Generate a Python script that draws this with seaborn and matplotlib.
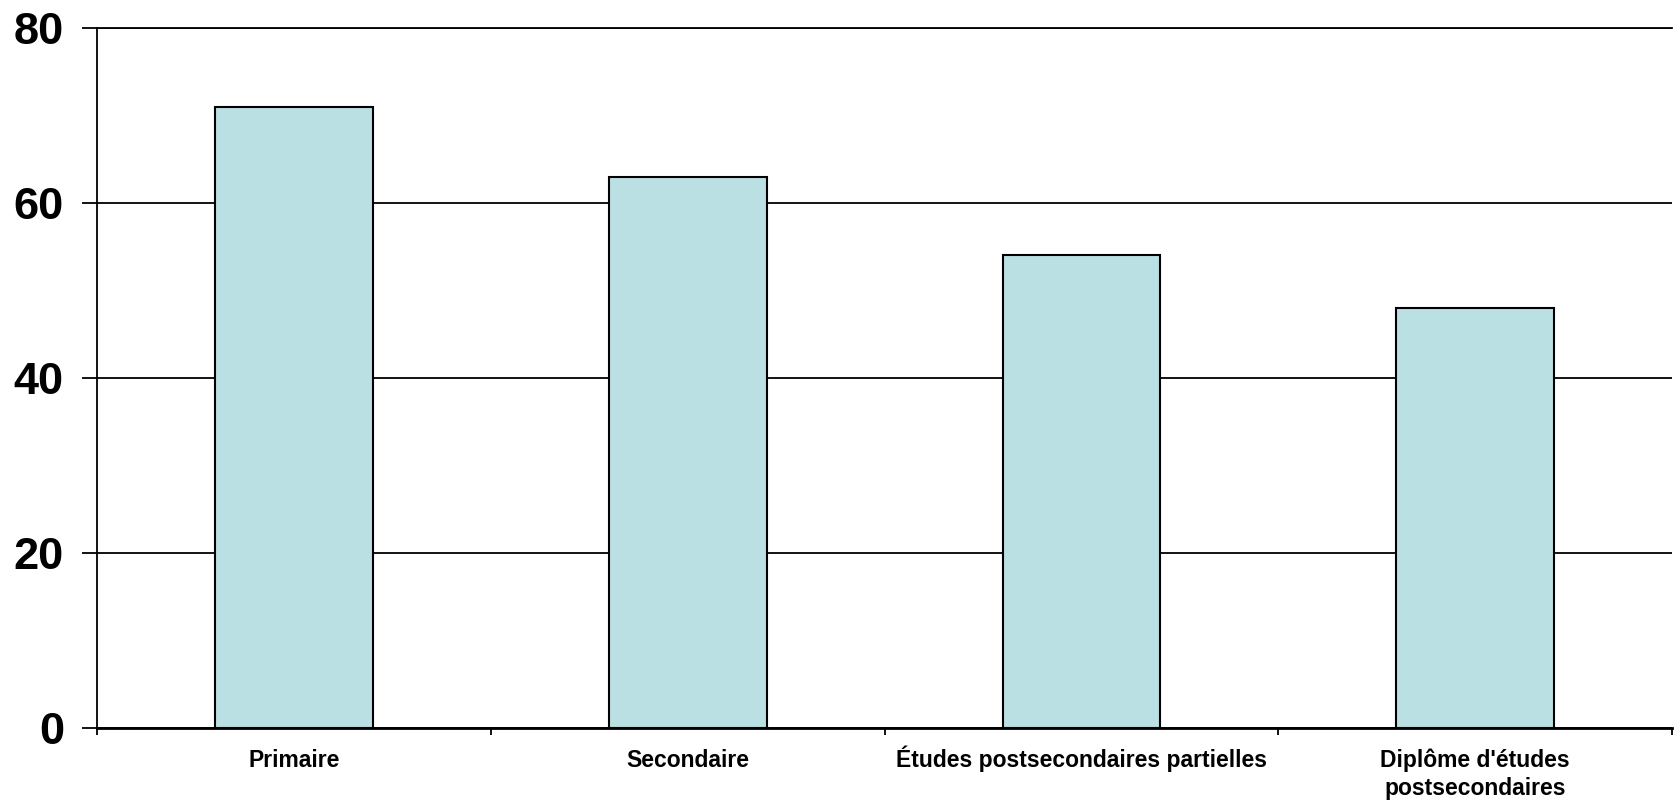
import matplotlib
matplotlib.use("Agg")
import matplotlib.pyplot as plt
import matplotlib.transforms as mtransforms
import seaborn as sns
import pandas as pd

categories = ["Primaire", "Secondaire", "Études postsecondaires partielles",
              "Diplôme d'études\npostsecondaires"]
values = [71, 63, 54, 48]
yticks = [0, 20, 40, 60, 80]

sns.set_theme(style="white")
plt.rcParams['font.family'] = ['Liberation Sans', 'DejaVu Sans']
plt.rcParams['text.color'] = 'black'
plt.rcParams['xtick.color'] = 'black'
plt.rcParams['ytick.color'] = 'black'

df = pd.DataFrame({"niveau": categories, "valeur": values})

fig = plt.figure(figsize=(16.77, 8.0), dpi=100)
ax = fig.add_axes([0.058, 0.0896, 0.939, 0.8756])

sns.barplot(data=df, x="niveau", y="valeur", color="#BAE0E3", saturation=1,
            width=0.4, edgecolor="black", linewidth=1.5, ax=ax, zorder=3)

ax.set_xlim(-0.5, len(categories) - 0.5)
ax.set_ylim(0, 80)
ax.set_yticks(yticks)
ax.set_yticklabels([str(t) for t in yticks], fontsize=32.5, fontweight="bold",
                   color="black")
ax.tick_params(axis="y", length=11, width=1.3, color="black", pad=13, left=True)

# category labels: each line placed on a common baseline below the axis
ax.set_xticks(range(len(categories)))
ax.set_xticklabels([])
ax.tick_params(axis="x", which="major", length=0)
base = mtransforms.blended_transform_factory(ax.transData, ax.transAxes)
for i, label in enumerate(categories):
    for j, line in enumerate(label.split("\n")):
        tr = base + mtransforms.ScaledTranslation(0, -(27.5 + 20.5 * j) / 72,
                                                  fig.dpi_scale_trans)
        ax.text(i, 0, line, transform=tr, ha="center", va="baseline",
                fontsize=16.5, fontweight="bold", color="black")

ax.set_xticks([i - 0.5 for i in range(len(categories) + 1)], minor=True)
ax.tick_params(axis="x", which="minor", length=5, width=1.3, color="black",
               bottom=True)

ax.yaxis.grid(True, color="black", linewidth=1.3, zorder=0)
ax.set_axisbelow(True)
ax.set_xlabel("")
ax.set_ylabel("")

for side in ["left", "bottom", "top"]:
    ax.spines[side].set_visible(True)
    ax.spines[side].set_color("black")
ax.spines["left"].set_linewidth(1.3)
ax.spines["top"].set_linewidth(1.3)
ax.spines["bottom"].set_linewidth(2)
ax.spines["right"].set_visible(False)

fig.savefig("out.png", dpi=100, facecolor="white")
